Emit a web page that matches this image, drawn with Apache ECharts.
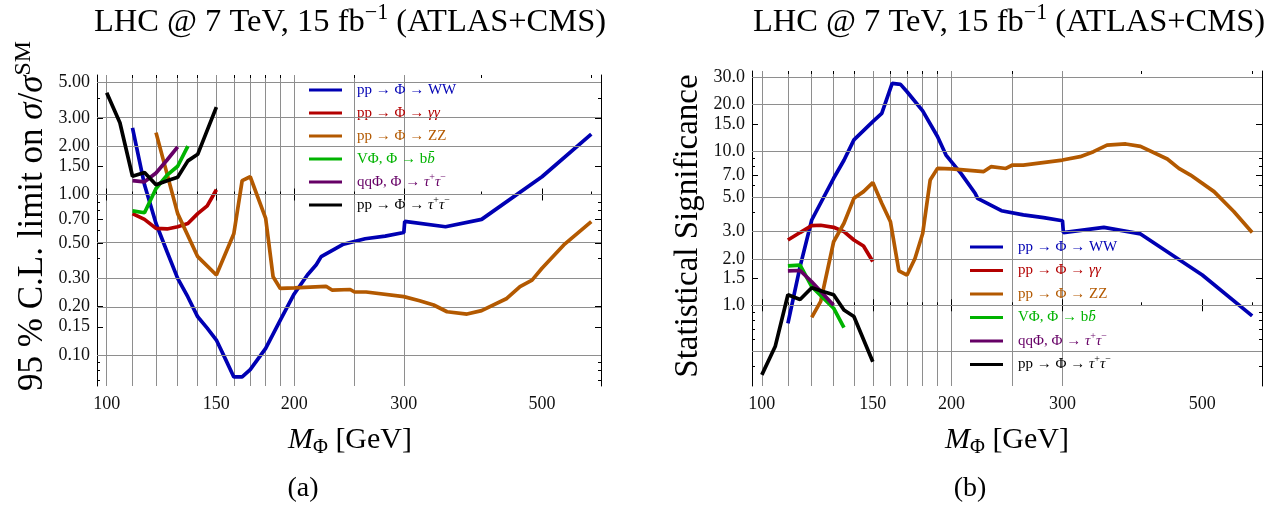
<!DOCTYPE html>
<html>
<head>
<meta charset="utf-8">
<script src="https://cdn.jsdelivr.net/npm/echarts@6/dist/echarts.min.js"></script>
<style>
html, body { margin: 0; padding: 0; background: #fff; }
#chart { width: 1278px; height: 505px; }
</style>
</head>
<body>
<div id="chart"></div>
<script>
// Higgs-like scalar, masses in GeV
const seriesNames = ['WW', 'γγ', 'ZZ', 'bb', 'qqττ', 'ppττ']
const lineColors = ['#0000b3', '#b30000', '#b35900', '#00b300', '#660066', '#000000']

// (a) 95% CL limit on sigma/sigma_SM  [mass, value]
const limitWW = [[110, 2.6], [115, 1.15], [120, 0.66], [125, 0.44], [130, 0.30], [135, 0.23], [140, 0.173], [145, 0.147],
  [150, 0.124], [155, 0.095], [160, 0.073], [165, 0.073], [170, 0.081], [180, 0.110], [190, 0.165], [200, 0.24],
  [210, 0.315], [217, 0.365], [221, 0.41], [240, 0.49], [260, 0.53], [280, 0.55], [300, 0.58], [301, 0.68],
  [350, 0.63], [400, 0.70], [500, 1.29], [600, 2.38]]
const limitAA = [[110, 0.76], [115, 0.70], [120, 0.615], [125, 0.61], [130, 0.63], [135, 0.66], [140, 0.76], [145, 0.85], [150, 1.07]]
const limitZZ = [[120, 2.43], [130, 0.76], [140, 0.41], [150, 0.315], [160, 0.57], [165, 1.22], [170, 1.29], [180, 0.71],
  [185, 0.307], [190, 0.26], [200, 0.262], [225, 0.268], [230, 0.254], [246, 0.256], [250, 0.247], [261, 0.247],
  [300, 0.231], [318, 0.218], [335, 0.205], [352, 0.186], [379, 0.18], [400, 0.189], [439, 0.225], [461, 0.267],
  [482, 0.293], [500, 0.347], [542, 0.485], [600, 0.678]]
const limitBB = [[110, 0.79], [115, 0.77], [120, 1.09], [125, 1.32], [130, 1.5], [135, 2.0]]
const limitQQTT = [[110, 1.22], [115, 1.20], [120, 1.36], [125, 1.64], [130, 1.98]]
const limitTT = [[100, 4.3], [105, 2.8], [110, 1.30], [115, 1.37], [120, 1.15], [125, 1.22], [130, 1.28], [135, 1.62], [140, 1.78], [150, 3.5]]

// (b) statistical significance  [mass, value]
const signifWW = [[110, 0.764], [115, 1.78], [120, 3.57], [130, 6.65], [135, 8.7], [140, 11.8], [150, 15.5], [155, 17.5],
  [161, 27.4], [166, 27.0], [170, 24.2], [180, 18.2], [190, 12.4], [196, 9.4], [207, 7.16], [218, 5.32], [220, 4.93],
  [240, 4.1], [260, 3.85], [280, 3.70], [300, 3.53], [301, 2.96], [349, 3.2], [399, 2.9], [500, 1.57], [600, 0.853]]
const signifAA = [[110, 2.65], [115, 2.96], [120, 3.28], [124, 3.3], [130, 3.2], [135, 3.0], [140, 2.65], [145, 2.42], [150, 1.92]]
const signifZZ = [[120, 0.836], [124, 1.06], [130, 2.58], [135, 3.4], [140, 4.93], [145, 5.45], [150, 6.24], [155, 4.58],
  [160, 3.48], [165, 1.67], [170, 1.57], [175, 2.01], [180, 2.92], [185, 6.49], [190, 7.71], [200, 7.65], [225, 7.35],
  [231, 7.91], [244, 7.7], [250, 8.11], [260, 8.1], [300, 8.73], [320, 9.18], [336, 9.89], [353, 10.9], [378, 11.1],
  [399, 10.7], [440, 8.87], [459, 7.71], [479, 6.98], [522, 5.45], [561, 4.05], [600, 2.96]]
const signifBB = [[110, 1.80], [115, 1.82], [120, 1.32], [130, 0.957], [135, 0.716]]
const signifQQTT = [[110, 1.67], [115, 1.68], [120, 1.42], [130, 1.0]]
const signifTT = [[100, 0.354], [105, 0.54], [110, 1.17], [115, 1.09], [120, 1.30], [125, 1.23], [130, 1.17], [135, 0.933], [140, 0.845], [150, 0.431]]

// ticks and grid lines
const massTicks = [100, 150, 200, 300, 500]
const massMinorTicks = [110, 120, 130, 140, 160, 170, 180, 190, 250, 400, 600]
const massGrid = [100, 110, 120, 130, 140, 150, 160, 170, 180, 190, 200, 250, 300]
const limitTicks = [0.1, 0.15, 0.2, 0.3, 0.5, 0.7, 1, 1.5, 2, 3, 5]
const limitMinorTicks = [0.07, 0.08, 0.09, 0.4, 0.6, 0.8, 0.9, 4]
const limitGrid = [0.1, 0.2, 0.3, 0.5, 1, 2, 3, 5]
const signifTicks = [1, 1.5, 2, 3, 5, 7, 10, 15, 20, 30]
const signifMinorTicks = [0.4, 0.5, 0.6, 0.7, 0.8, 0.9, 4, 6, 8, 9]
const signifGrid = [0.5, 1, 2, 3, 5, 10, 20, 30]

const serif = "'Liberation Serif', 'DejaVu Serif', serif"
const gridColor = '#8e8e8e'
const lg = v => Math.log10(v)
const logs = arr => arr.map(lg)
const massRange = [lg(100) - 0.0156, lg(600) + 0.0156]

const legendLabels = {
  'WW': 'pp → Φ → WW',
  'γγ': 'pp → Φ → {i|γγ}',
  'ZZ': 'pp → Φ → ZZ',
  'bb': 'VΦ, Φ → b{i|b̄}',
  'qqττ': 'qqΦ, Φ → {i|τ}{s|+}{i|τ}{s|−}',
  'ppττ': 'pp → Φ → {i|τ}{s|+}{i|τ}{s|−}',
}

const frame = { show: true, lineStyle: { color: '#000', width: 1 } }

// one side of the frame: major ticks (+labels), minor ticks, optional grid-line axis
function sideAxes(gridIndex, range, pos, major, minor, grid, label) {
  const base = {
    type: 'value', gridIndex, min: range[0], max: range[1], position: pos,
    axisLine: { show: false }, splitLine: { show: false },
    axisLabel: { show: false }, axisTick: { show: false },
  }
  const out = [
    {
      ...base,
      axisLine: frame,
      axisTick: { show: true, inside: true, length: 6, lineStyle: { color: '#000' }, customValues: logs(major) },
      axisLabel: label ? { show: true, customValues: logs(major), ...label } : { show: false },
    },
    { ...base, axisTick: { show: true, inside: true, length: 3, lineStyle: { color: '#000' }, customValues: logs(minor) } },
  ]
  if (grid) {
    out.push({ ...base, axisTick: { show: false, customValues: logs(grid) }, splitLine: { show: true, lineStyle: { color: gridColor, width: 1 } } })
  }
  return out
}

const tickFont = { fontFamily: serif, fontSize: 18, color: '#111' }

function panelAxes(gridIndex, yRange, yMajor, yMinor, yDigits) {
  const xLabel = { ...tickFont, margin: 9, formatter: v => String(Math.round(Math.pow(10, v))) }
  const yLabel = { ...tickFont, margin: 7, formatter: v => Math.pow(10, v).toFixed(yDigits) }
  return {
    x: [
      ...sideAxes(gridIndex, massRange, 'bottom', massTicks, massMinorTicks, massGrid, xLabel),
      ...sideAxes(gridIndex, massRange, 'top', massTicks, massMinorTicks, null, null),
    ],
    y: [
      ...sideAxes(gridIndex, yRange, 'left', yMajor, yMinor, null, yLabel),
      ...sideAxes(gridIndex, yRange, 'right', yMajor, yMinor, null, null),
    ],
  }
}

const axesA = panelAxes(0, [-1.193, 0.7445], limitTicks, limitMinorTicks, 2)
const axesB = panelAxes(1, [-0.523, 1.518], signifTicks, signifMinorTicks, 1)
const xAxisIndexB = axesA.x.length
const yAxisIndexB = axesA.y.length

function makeSeries(sets, xi, yi) {
  return sets.map((pts, i) => ({
    type: 'line', name: seriesNames[i], xAxisIndex: xi, yAxisIndex: yi,
    data: pts.map(p => [lg(p[0]), lg(p[1])]),
    symbol: 'none', smooth: false, clip: true,
    lineStyle: { color: lineColors[i], width: 3.7 }, itemStyle: { color: lineColors[i] },
    z: 3 + i,
  }))
}

// horizontal grid lines
function gridLines(values, xi, yi) {
  return {
    type: 'line', xAxisIndex: xi, yAxisIndex: yi, data: [], z: 1, silent: true,
    markLine: {
      silent: true, symbol: 'none', animation: false,
      label: { show: false },
      lineStyle: { color: gridColor, width: 1, type: 'solid' },
      emphasis: { disabled: true },
      data: values.map(v => ({ yAxis: lg(v) })),
    },
  }
}

const richBase = size => ({
  t: { fontFamily: serif, fontSize: size, fill: '#000', lineHeight: size * 1.2 },
  i: { fontFamily: serif, fontSize: size, fontStyle: 'italic', fill: '#000', lineHeight: size * 1.2 },
  s: { fontFamily: serif, fontSize: size * 0.68, fill: '#000', verticalAlign: 'top', lineHeight: size * 1.2 },
  sub: { fontFamily: serif, fontSize: size * 0.68, fill: '#000', verticalAlign: 'bottom', lineHeight: size * 1.2 },
})

function textEl(x, y, text, size, rotation) {
  return {
    type: 'text', x, y, rotation: rotation || 0,
    style: { text, rich: richBase(size), align: 'center', verticalAlign: 'middle', fill: '#000' },
  }
}

const titleText = '{t|LHC @ 7 TeV, 15 fb}{s|−1}{t| (ATLAS+CMS)}'
const massText = '{i|M}{sub|Φ}{t| [GeV]}'

function legendFor(left, top, gap) {
  return {
    left, top, orient: 'vertical', padding: 0, itemWidth: 33, itemHeight: 3, itemGap: gap,
    icon: 'rect', selectedMode: false,
    data: seriesNames.map((n, i) => ({ name: n, textStyle: { color: lineColors[i] } })),
    formatter: n => legendLabels[n],
    textStyle: {
      fontFamily: serif, fontSize: 15, lineHeight: 20, padding: [0, 0, 0, 10],
      rich: {
        i: { fontFamily: serif, fontSize: 15, fontStyle: 'italic', lineHeight: 20 },
        s: { fontFamily: serif, fontSize: 10, verticalAlign: 'top', lineHeight: 20 },
      },
    },
  }
}

const chart = echarts.init(document.getElementById('chart'), null, { renderer: 'canvas' })
chart.setOption({
  animation: false,
  backgroundColor: '#fff',
  grid: [
    { left: 97, top: 75, width: 504, height: 311, containLabel: false, outerBoundsMode: 'none' },
    { left: 752, top: 71, width: 510, height: 315, containLabel: false, outerBoundsMode: 'none' },
  ],
  xAxis: [...axesA.x, ...axesB.x],
  yAxis: [...axesA.y, ...axesB.y],
  legend: [legendFor(309, 80, 3), legendFor(970, 237, 3.5)],
  series: [
    gridLines(limitGrid, 0, 0),
    gridLines(signifGrid, xAxisIndexB, yAxisIndexB),
    ...makeSeries([limitWW, limitAA, limitZZ, limitBB, limitQQTT, limitTT], 0, 0),
    ...makeSeries([signifWW, signifAA, signifZZ, signifBB, signifQQTT, signifTT], xAxisIndexB, yAxisIndexB),
  ],
  graphic: [
    textEl(350, 22, titleText, 32.5),
    textEl(1009, 22, titleText, 32.5),
    textEl(33, 216, '{t|95 % C.L. limit on }{i|σ}{t|/}{i|σ}{s|SM}', 35, Math.PI / 2),
    textEl(688, 226, '{t|Statistical Significance}', 33, Math.PI / 2),
    textEl(350, 440, massText, 30),
    textEl(1007, 440, massText, 30),
    textEl(303, 489, '{t|(a)}', 28),
    textEl(970, 489, '{t|(b)}', 28),
  ],
})
</script>
</body>
</html>
